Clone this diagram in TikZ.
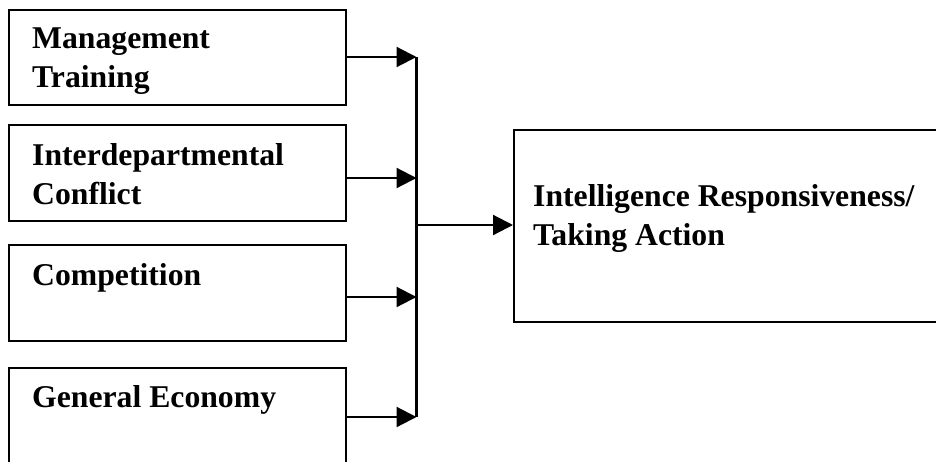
\documentclass[tikz,border=0pt]{standalone}
\usepackage{fontspec}
\setmainfont{Liberation Serif}
\usetikzlibrary{arrows.meta}
\begin{document}
\begin{tikzpicture}[x=1pt,y=-1pt,
  box/.style={draw, line width=2.2pt, rectangle, inner sep=0pt, anchor=north west},
  lbl/.style={anchor=base west, inner sep=0pt, align=left,
    font=\fontsize{31.7}{39}\selectfont\bfseries},
  link/.style={line width=2.2pt},
  arr/.style={link, -{Triangle[length=20pt,width=20pt]}}]
  \clip (0,0) rectangle (936,461);
  \fill[white] (0,0) rectangle (936,461);

  % factor boxes on the left
  \node[box, minimum width=337pt, minimum height=95pt] (b1) at (8,9) {};
  \node[box, minimum width=337pt, minimum height=96pt] (b2) at (8,124) {};
  \node[box, minimum width=337pt, minimum height=96pt] (b3) at (8,244) {};
  \node[box, minimum width=337pt, minimum height=140pt] (b4) at (8,367) {};

  % labels (base anchor sits on the last line)
  \node[lbl] (t1) at (32,87) {Management\\Training};
  \node[lbl] (t2) at (32,204) {Interdepartmental\\Conflict};
  \node[lbl] (t3) at (32,285) {Competition};
  \node[lbl] (t4) at (32,407) {General Economy};

  % outcome box on the right
  \node[box, minimum width=480pt, minimum height=192pt] (out) at (513,129) {};
  \node[lbl] (tout) at (533,245) {Intelligence Responsiveness/\\Taking Action};

  % collecting bus
  \coordinate (j1) at (416.5,57);
  \coordinate (j2) at (416.5,178);
  \coordinate (j3) at (416.5,297);
  \coordinate (j4) at (416.5,417);
  \coordinate (jo) at (416.5,225);

  \draw[link] (j1) -- (j4);
  \draw[arr] (b1.east |- j1) -- (j1);
  \draw[arr] (b2.east |- j2) -- (j2);
  \draw[arr] (b3.east |- j3) -- (j3);
  \draw[arr] (b4.east |- j4) -- (j4);
  \draw[arr] (jo) -- (out.west |- jo);
\end{tikzpicture}
\end{document}
